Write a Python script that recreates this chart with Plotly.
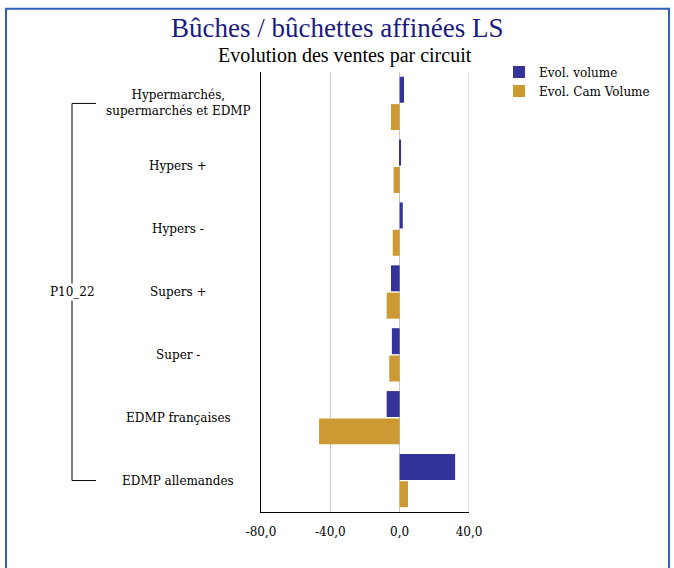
import plotly.graph_objects as go

categories = ["Hypermarchés,<br>supermarchés et EDMP", "Hypers +", "Hypers -", "Supers +",
              "Super -", "EDMP françaises", "EDMP allemandes"]
group_label = "P10_22"
evol_volume = [2.5, 0.8, 1.8, -5.0, -4.5, -7.5, 32.0]
evol_cam_volume = [-5.0, -3.5, -4.0, -7.5, -6.0, -46.5, 4.8]
x_tickvals = [-80, -40, 0, 40]
x_ticktext = ["-80,0", "-40,0", "0,0", "40,0"]

W, H = 674, 568
L, R, T, B = 261, 469, 71.5, 512.5

def px_x(p):
    return (p - L) / (R - L)

def px_y(p):
    return (B - p) / (B - T)

FONT = "DejaVu Serif"
idx = list(range(len(categories)))

fig = go.Figure()
fig.add_trace(go.Bar(y=idx, x=evol_volume, orientation="h", name="Evol. volume",
                     marker=dict(color="#333399", line=dict(width=0))))
fig.add_trace(go.Bar(y=idx, x=evol_cam_volume, orientation="h", name="Evol. Cam Volume",
                     marker=dict(color="#CC9933", line=dict(width=0))))

annotations = []
for i, c in enumerate(categories):
    annotations.append(dict(x=px_x(178), xref="paper", y=i, yref="y", text=c, showarrow=False,
                            xanchor="center", yanchor="middle", align="center",
                            font=dict(family=FONT, size=12, color="#000000")))
mid = (len(categories) - 1) / 2
annotations.append(dict(x=px_x(72), xref="paper", y=mid, yref="y", text=group_label, showarrow=False,
                        xanchor="center", yanchor="middle", bgcolor="white", borderpad=1,
                        font=dict(family=FONT, size=12, color="#000000")))
annotations.append(dict(x=px_x(337), xref="paper", y=px_y(27), yref="paper",
                        text="Bûches / bûchettes affinées LS", showarrow=False,
                        xanchor="center", yanchor="middle",
                        font=dict(family="Liberation Serif", size=27, color="#1A1A80")))
annotations.append(dict(x=px_x(345), xref="paper", y=px_y(55), yref="paper",
                        text="Evolution des ventes par circuit", showarrow=False,
                        xanchor="center", yanchor="middle",
                        font=dict(family="Liberation Serif", size=20, color="#000000")))

shapes = [
    dict(type="line", xref="x", yref="paper", x0=x_tickvals[-1], x1=x_tickvals[-1], y0=0, y1=1,
         line=dict(color="#C8C8C8", width=1), layer="below"),
    dict(type="line", xref="paper", yref="y", x0=px_x(72), x1=px_x(72), y0=0, y1=len(categories) - 1,
         line=dict(color="#000000", width=1), layer="below"),
    dict(type="line", xref="paper", yref="y", x0=px_x(72), x1=px_x(96), y0=0, y1=0,
         line=dict(color="#000000", width=1)),
    dict(type="line", xref="paper", yref="y", x0=px_x(72), x1=px_x(96),
         y0=len(categories) - 1, y1=len(categories) - 1, line=dict(color="#000000", width=1)),
    dict(type="rect", xref="paper", yref="paper", x0=px_x(6), x1=px_x(669), y0=px_y(575), y1=px_y(8),
         line=dict(color="#2E63B8", width=2), fillcolor="rgba(0,0,0,0)", layer="below"),
]

fig.update_layout(
    width=W, height=H,
    margin=dict(l=L, r=W - R, t=T, b=H - B, pad=0),
    paper_bgcolor="white", plot_bgcolor="white",
    barmode="group", bargap=0.13, bargroupgap=0.05,
    font=dict(family=FONT, size=12, color="#000000"),
    xaxis=dict(range=[-80, 40], tickvals=x_tickvals, ticktext=x_ticktext,
               showgrid=True, gridcolor="#C8C8C8", gridwidth=1, zeroline=False,
               showline=True, linecolor="#000000", linewidth=1, ticks="", ticklen=0,
               ticklabelstandoff=9,
               tickfont=dict(family=FONT, size=12, color="#000000")),
    yaxis=dict(range=[len(categories) - 0.5, -0.5], showticklabels=False, showgrid=False,
               zeroline=False, showline=True, linecolor="#000000", linewidth=1, ticks=""),
    legend=dict(x=px_x(499), y=px_y(57), xanchor="left", yanchor="top",
                font=dict(family=FONT, size=12, color="#000000"), traceorder="normal",
                bgcolor="rgba(0,0,0,0)"),
    annotations=annotations,
    shapes=shapes,
)

fig.write_html("out.html", config={"displayModeBar": False},
               post_script="document.body.style.margin='0';document.body.style.overflow='hidden';")
